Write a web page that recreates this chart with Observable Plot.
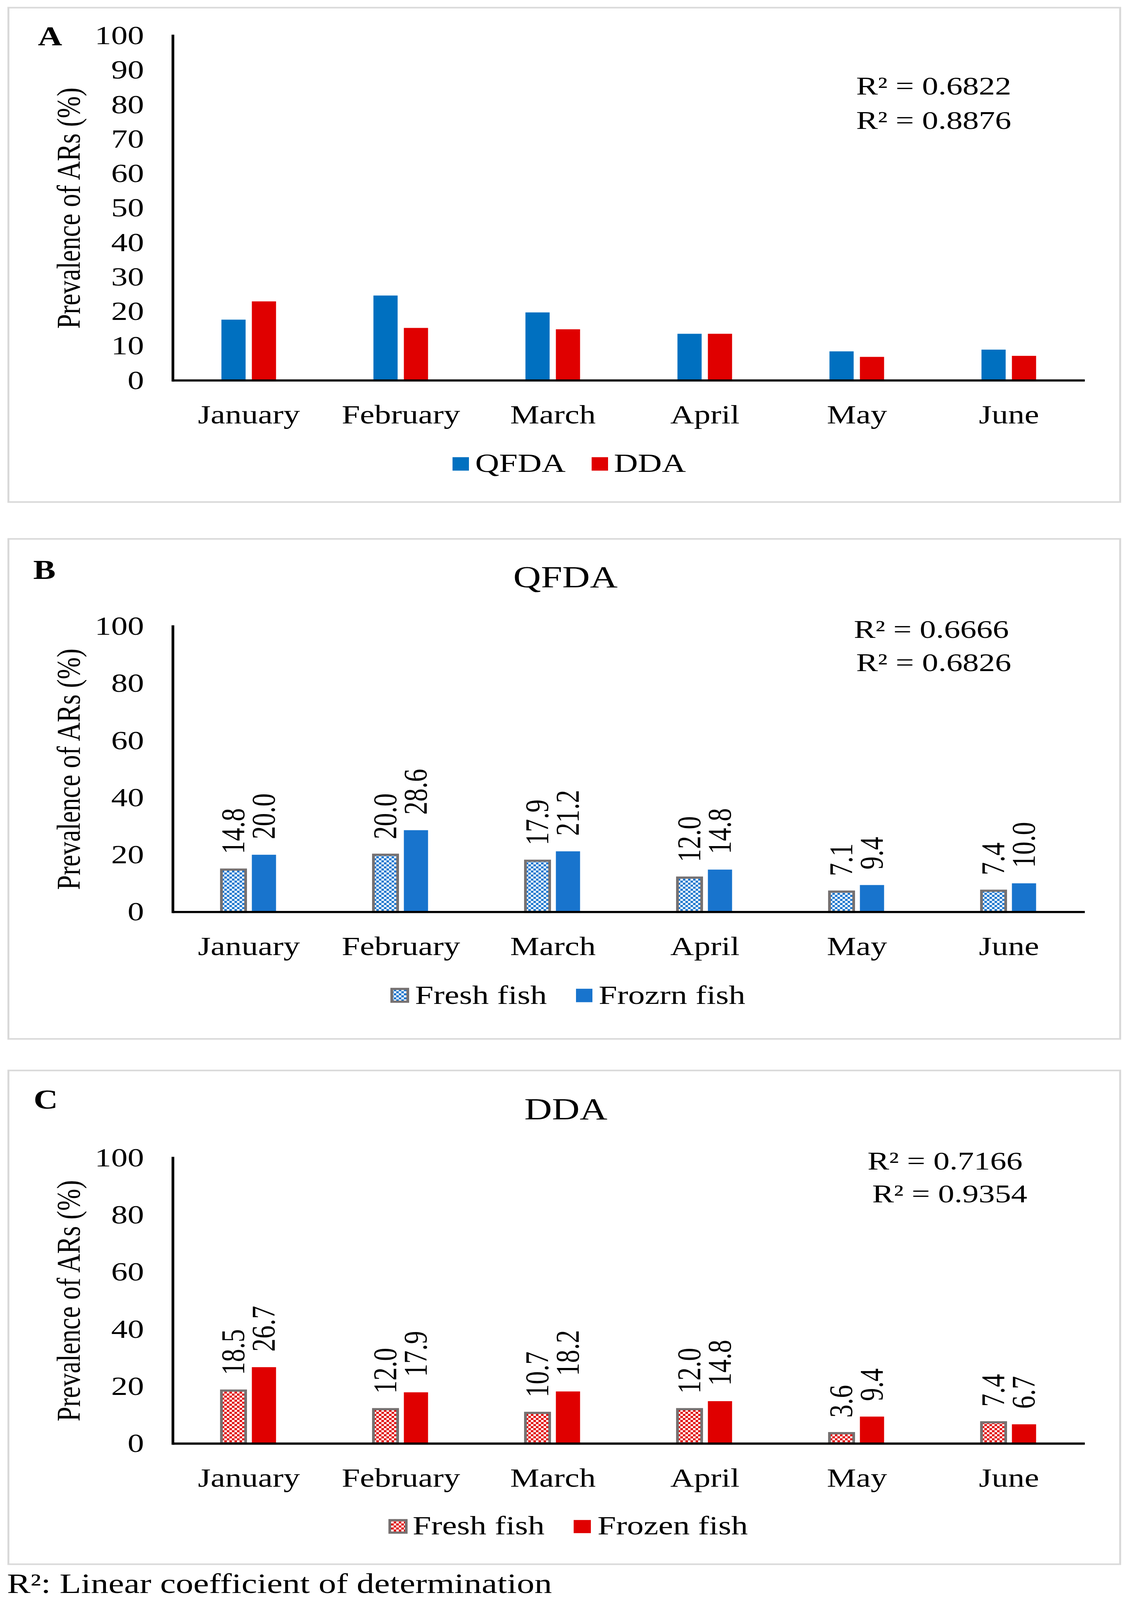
<!DOCTYPE html>
<html><head><meta charset="utf-8">
<script src="https://cdn.jsdelivr.net/npm/d3@7"></script>
<script src="https://cdn.jsdelivr.net/npm/@observablehq/plot@0.6"></script>
<style>
html,body{margin:0;padding:0;background:#fff;}
#wrap{position:relative;width:2884px;overflow:hidden;}
#root{position:absolute;left:0;top:0;width:2884px;height:5120px;transform-origin:0 0;font-family:"Liberation Serif","Times New Roman",serif;}
</style></head><body><div id="wrap"><div id="root"></div></div>
<script>
// ---- data ----
const months = ["January", "February", "March", "April", "May", "June"];
const seriesA = ["QFDA", "DDA"];
const qfdaTotal = [17.6, 24.6, 19.7, 13.5, 8.4, 8.9];
const ddaTotal = [22.9, 15.2, 14.8, 13.5, 6.8, 7.1];
const seriesB = ["Fresh fish", "Frozrn fish"];
const qfdaFresh = [14.8, 20.0, 17.9, 12.0, 7.1, 7.4];
const qfdaFrozen = [20.0, 28.6, 21.2, 14.8, 9.4, 10.0];
const seriesC = ["Fresh fish", "Frozen fish"];
const ddaFresh = [18.5, 12.0, 10.7, 12.0, 3.6, 7.4];
const ddaFrozen = [26.7, 17.9, 18.2, 14.8, 9.4, 6.7];
const ticksA = [0, 10, 20, 30, 40, 50, 60, 70, 80, 90, 100];
const ticksBC = [0, 20, 40, 60, 80, 100];
const r2A = ["R² = 0.6822", "R² = 0.8876"];
const r2B = ["R² = 0.6666", "R² = 0.6826"];
const r2C = ["R² = 0.7166", "R² = 0.9354"];
const panelLetters = ["A", "B", "C"];
const panelTitles = [null, "QFDA", "DDA"];
const yLabel = "Prevalence of ARs (%)";
const caption = "R²: Linear coefficient of determination";

// ---- style ----
const BLUE_A = "#0070C0", RED = "#E00000", BLUE_B = "#1874CD", GRAY = "#767171";
const FONT = '"Liberation Serif", "Times New Roman", serif';
const root = document.getElementById("root");
const wrap = document.getElementById("wrap");

// fit the 2884x5120 figure into the actual viewport height
const sy = Math.min(1, (window.innerHeight || 5120) / 5120);
root.style.transform = `scale(1, ${sy})`;
wrap.style.height = (5120 * sy) + "px";

const ov = d3.create("svg").attr("width", 2884).attr("height", 5120)
  .style("position", "absolute").style("left", "0px").style("top", "0px")
  .style("font-family", FONT);
const defs = ov.append("defs");
function checker(id, color) {
  const p = defs.append("pattern").attr("id", id).attr("patternUnits", "userSpaceOnUse")
    .attr("width", 13).attr("height", 13);
  p.append("rect").attr("width", 13).attr("height", 13).attr("fill", "#fff");
  p.append("rect").attr("width", 6.5).attr("height", 6.5).attr("fill", color);
  p.append("rect").attr("x", 6.5).attr("y", 6.5).attr("width", 6.5).attr("height", 6.5).attr("fill", color);
}
checker("chkBlue", BLUE_B);
checker("chkRed", RED);

const boxes = [[21.5, 24.5, 2845, 1582], [21.5, 1724.5, 2845, 1600], [21.5, 3425.5, 2845, 1580]];
boxes.forEach(([x, y, w, h]) => ov.append("rect").attr("x", x).attr("y", y).attr("width", w).attr("height", h)
  .attr("fill", "none").attr("stroke", "#D9D9D9").attr("stroke-width", 5));

function txt(x, y, s, size, opts = {}) {
  return ov.append("text").attr("x", x).attr("y", y).attr("font-size", size)
    .attr("font-weight", opts.weight || "normal").attr("text-anchor", opts.anchor || "start")
    .attr("fill", "#000").text(s);
}
txt(97, 145, panelLetters[0], 86, {weight: "bold"});
txt(85, 1853, panelLetters[1], 86, {weight: "bold"});
txt(86, 3548, panelLetters[2], 86, {weight: "bold"});
txt(1447, 1879, panelTitles[1], 98, {anchor: "middle"});
txt(1448, 3581, panelTitles[2], 98, {anchor: "middle"});
txt(2191, 303, r2A[0], 83); txt(2191, 413, r2A[1], 83);
txt(2185, 2041, r2B[0], 83); txt(2191, 2147, r2B[1], 83);
txt(2220, 3743, r2C[0], 83); txt(2232, 3848, r2C[1], 83);
function sw(x, y, w, h, fill, stroke) {
  const r = ov.append("rect").attr("x", x).attr("y", y).attr("width", w).attr("height", h).attr("fill", fill);
  if (stroke) r.attr("stroke", stroke).attr("stroke-width", 7);
}
sw(1158, 1463, 42, 43, BLUE_A); txt(1216, 1510, seriesA[0], 85);
sw(1514, 1463, 42, 43, RED); txt(1571, 1510, seriesA[1], 85);
sw(1002.5, 3164.5, 41, 41, "url(#chkBlue)", GRAY); txt(1062, 3212, seriesB[0], 85);
sw(1474, 3164, 42, 43, BLUE_B); txt(1532, 3212, seriesB[1], 85);
sw(997.5, 4864.5, 42, 40, "url(#chkRed)", GRAY); txt(1056, 4910, seriesC[0], 85);
sw(1468, 4864, 44, 42, RED); txt(1529, 4910, seriesC[1], 85);
txt(18, 5098, caption, 90);
root.appendChild(ov.node());

function panel({top, height, y100, y0, series, values, ticks, fills, strokes, labels}) {
  const rows = [];
  months.forEach((m, i) => series.forEach((s, j) => rows.push({month: m, series: s, value: values[j][i]})));
  const marks = [];
  series.forEach((s, j) => {
    const d = rows.filter(r => r.series === s);
    const o = {fx: "month", x: "series", y: "value", fill: fills[j]};
    if (strokes[j]) { o.stroke = strokes[j]; o.strokeWidth = 7; }
    marks.push(Plot.barY(d, o));
  });
  if (labels) marks.push(Plot.text(rows, {
    fx: "month", x: "series", y: "value", text: d => d.value.toFixed(1),
    rotate: -90, textAnchor: "start", lineAnchor: "middle", dy: -50, fontSize: 84, fill: "#000"
  }));
  marks.push(Plot.ruleY([0], {stroke: "#000", strokeWidth: 7}));
  marks.push(Plot.frame({anchor: "left", facetAnchor: "left", stroke: "#000", strokeWidth: 7}));
  const svg = Plot.plot({
    width: 2884, height,
    marginLeft: 440, marginRight: 107, marginTop: y100 - top, marginBottom: top + height - y0,
    style: {fontFamily: FONT, fontSize: "84px", color: "#000", background: "transparent", overflow: "visible"},
    fx: {domain: months, padding: 0, label: null, axis: "bottom", tickSize: 0, tickPadding: 78},
    x: {domain: series, paddingInner: 0.2051, paddingOuter: 1.6, round: false, axis: null},
    y: {domain: [0, 100], ticks, tickSize: 0, tickPadding: 74, label: yLabel,
        labelAnchor: "center", labelOffset: 298, labelArrow: "none"},
    marks
  });
  svg.style.position = "absolute";
  svg.style.left = "0px";
  svg.style.top = top + "px";
  svg.style.maxWidth = "none";
  root.appendChild(svg);
}

panel({top: 0, height: 1400, y100: 114, y0: 1217, series: seriesA, values: [qfdaTotal, ddaTotal],
  ticks: ticksA, fills: [BLUE_A, RED], strokes: [null, null], labels: false});
panel({top: 1700, height: 1400, y100: 2004, y0: 2918, series: seriesB, values: [qfdaFresh, qfdaFrozen],
  ticks: ticksBC, fills: ["url(#chkBlue)", BLUE_B], strokes: [GRAY, null], labels: true});
panel({top: 3400, height: 1400, y100: 3705, y0: 4619, series: seriesC, values: [ddaFresh, ddaFrozen],
  ticks: ticksBC, fills: ["url(#chkRed)", RED], strokes: [GRAY, null], labels: true});
</script></body></html>
